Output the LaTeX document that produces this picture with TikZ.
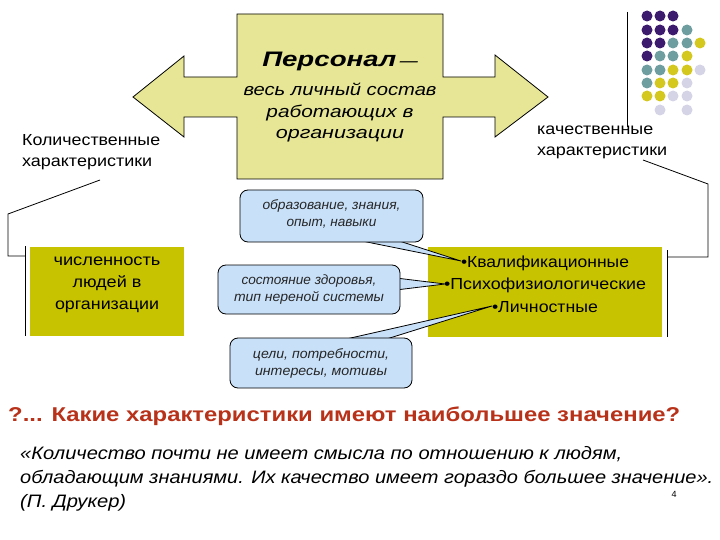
\documentclass[tikz,border=0pt]{standalone}
\usepackage{fontspec}
\usepackage{graphicx}
\setmainfont{Liberation Sans}
\newcommand\hfit[2]{\resizebox{#1pt}{\height}{#2}}
\definecolor{panel}{HTML}{E6E696}
\definecolor{olive}{HTML}{C8C300}
\definecolor{cblue}{HTML}{C8E0F8}
\definecolor{qred}{HTML}{B8321A}
\definecolor{dP}{HTML}{3C1A6E}
\definecolor{dT}{HTML}{6E9EA0}
\definecolor{dY}{HTML}{D4C81E}
\definecolor{dL}{HTML}{D4D4E6}
\begin{document}
\begin{tikzpicture}[x=1pt,y=-1pt,
  dot/.style={circle,inner sep=0pt,minimum size=11pt,fill=#1},
  callout/.style={draw=black,fill=cblue,rounded corners=8pt,line width=0.8pt},
  tail/.style={draw=black,fill=cblue,line width=0.8pt,line join=round},
  cotext/.style={font=\itshape\fontsize{13.5}{17}\selectfont,text=black!85,align=center},
  bracket/.style={draw=black,line width=0.8pt},
  olivebox/.style={fill=olive},
]
\useasboundingbox (0,0) rectangle (720,540);
% decorative dots
\draw[line width=0.8pt] (627,12) -- (627,127);
\foreach \x/\y/\c in {
 647/16/dP,660/16/dP,673/16/dP,
 647/30/dP,660/30/dP,673/30/dP,687/30/dT,
 647/43/dP,660/43/dP,673/43/dT,687/43/dT,700/43/dY,
 647/56/dP,660/56/dT,673/56/dT,687/56/dY,
 647/70/dT,660/70/dT,673/70/dY,687/70/dY,700/70/dL,
 647/83/dT,660/83/dY,673/83/dY,687/83/dL,
 647/96/dY,660/96/dY,673/96/dL,687/96/dL,
 660/110/dL,687/110/dL}
 \node[dot=\c] at (\x,\y) {};
% central double arrow with box
\draw[fill=panel,line width=0.8pt,line join=miter]
 (237,14) -- (443,14) -- (443,77) -- (495,77) -- (495,55) -- (548,97) -- (495,137) -- (495,117)
 -- (443,117) -- (443,179) -- (237,179) -- (237,117) -- (184,117) -- (184,137) -- (133,97)
 -- (184,56) -- (184,77) -- (237,77) -- cycle;
\node[font=\bfseries\itshape\fontsize{21}{21}\selectfont] (pers) at (340,61)
 {\hfit{134}{Персонал}\,{\fontsize{12}{12}\selectfont\raisebox{1pt}{\hfit{18}{—}}}};
\node[font=\itshape\fontsize{17}{21.5}\selectfont,align=center] (def) at (340,112.5)
 {\hfit{193}{весь личный состав}\\\hfit{147}{работающих в}\\\hfit{128}{организации}};
% side labels
\node[anchor=west,align=left,font=\fontsize{16}{21}\selectfont,inner sep=0pt] (quant) at (22,152.5)
 {\hfit{138}{Количественные}\\\hfit{130}{характеристики}};
\node[anchor=west,align=left,font=\fontsize{16}{21}\selectfont,inner sep=0pt] (qual) at (537,142.5)
 {\hfit{116}{качественные}\\\hfit{130}{характеристики}};
% brackets
\coordinate (lb0) at (100,180);
\coordinate (rb0) at (643,160);
\draw[bracket] (lb0) -- (8,214) -- (8,256) -- (25,256);
\draw[bracket] (25,246) -- (25,336);
\draw[bracket] (rb0) -- (708,184) -- (708,257) -- (667,257);
\draw[bracket] (667,250) -- (667,337);
% olive boxes
\path[olivebox] (30,247) rectangle (184,336);
\node[font=\fontsize{16}{22}\selectfont,align=center] (num) at (107,285)
 {\hfit{107}{численность}\\\hfit{69}{людей в}\\\hfit{104}{организации}};
\path[olivebox] (428,247) rectangle (662,337);
\node[font=\fontsize{16}{22.5}\selectfont,align=center] (kinds) at (545,284)
 {\hfit{168}{•Квалификационные}\\\hfit{202}{•Психофизиологические}\\\hfit{106}{•Личностные}};
\coordinate (k1) at (461,261);
\coordinate (k2) at (445,284);
\coordinate (k3) at (492,306);
% callouts
\path[tail] (347,238) -- (k1) -- (390,238) -- cycle;
\path[callout] (240,190) rectangle (423,242);
\node[cotext] (c1) at (331.5,214) {\hfit{138}{образование, знания,}\\\hfit{90}{опыт, навыки}};
\path[tail] (396,278) -- (k2) -- (396,290) -- cycle;
\path[callout] (218,265) rectangle (400,314);
\node[cotext] (c2) at (309,289.5) {\hfit{135}{состояние здоровья,}\\\hfit{150}{тип нереной системы}};
\path[tail] (333,342) -- (k3) -- (377,342) -- cycle;
\path[callout] (230,338) rectangle (412,388);
\node[cotext] (c3) at (321,363) {\hfit{136}{цели, потребности,}\\\hfit{132}{интересы, мотивы}};
% question and quote
\node[anchor=west,inner sep=0pt,text=qred,font=\bfseries\fontsize{20}{20}\selectfont] (q) at (8,416)
 {\hfit{672}{?... Какие характеристики имеют наибольшее значение?}};
\node[anchor=west,inner sep=0pt,align=left,font=\itshape\fontsize{18}{24}\selectfont] (quote) at (20,479)
 {\hfit{602}{«Количество почти не имеет смысла по отношению к людям,}\\\hfit{693}{обладающим знаниями. Их качество имеет гораздо большее значение».}\\\hfit{106}{(П. Друкер)}};
\node[font=\fontsize{9}{9}\selectfont] (pg) at (674,494) {4};
\end{tikzpicture}
\end{document}
